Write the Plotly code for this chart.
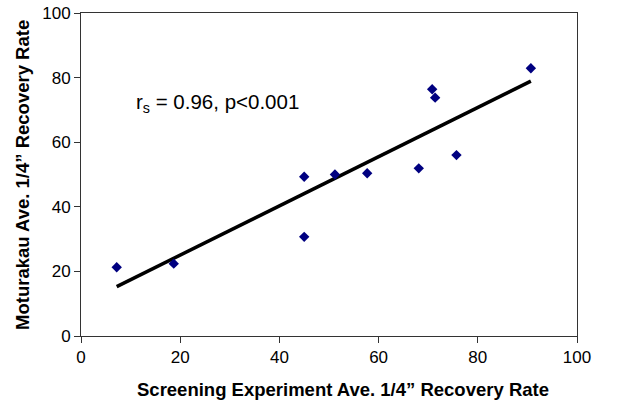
import plotly.graph_objects as go

screening = [7.2, 18.7, 45.0, 45.0, 51.2, 57.7, 68.1, 70.8, 71.4, 75.7, 90.7]
moturakau = [21.3, 22.4, 49.3, 30.7, 50.0, 50.4, 51.9, 76.4, 73.8, 56.0, 82.9]
fit_x = [7.2, 90.7]
fit_y = [15.3, 78.9]
ticks = [0, 20, 40, 60, 80, 100]
x_title = "Screening Experiment Ave. 1/4\u201d Recovery Rate"
y_title = "Moturakau Ave. 1/4\u201d Recovery Rate"
stat_text = "r<sub>s</sub> = 0.96, p&lt;0.001"

FONT = "Liberation Sans, Arial"

fig = go.Figure()
fig.add_trace(go.Scatter(x=fit_x, y=fit_y, mode="lines",
                         line=dict(color="black", width=3.5), showlegend=False))
fig.add_trace(go.Scatter(x=screening, y=moturakau, mode="markers",
                         marker=dict(symbol="diamond", color="#000080", size=8),
                         showlegend=False))

axis_common = dict(range=[0, 100], tickvals=ticks, showgrid=False, zeroline=False,
                   showline=True, linecolor="#333333", linewidth=1, mirror=True,
                   ticks="outside", ticklen=6, tickcolor="#333333", automargin=False,
                   tickfont=dict(family=FONT, size=17, color="black"))

fig.update_xaxes(**axis_common)
fig.update_yaxes(**axis_common)

fig.add_annotation(xref="paper", yref="paper", x=0.529, y=-0.166,
                   xanchor="center", yanchor="middle", showarrow=False,
                   text="<b>" + x_title + "</b>",
                   font=dict(family=FONT, size=18.5, color="black"))
fig.add_annotation(xref="paper", yref="paper", x=-0.118, y=0.5,
                   xanchor="center", yanchor="middle", showarrow=False, textangle=-90,
                   text="<b>" + y_title + "</b>",
                   font=dict(family=FONT, size=18.5, color="black"))

fig.add_annotation(x=10.7, y=72, xanchor="left", yanchor="middle", showarrow=False,
                   text=stat_text,
                   font=dict(family=FONT, size=20.5, color="black"))

fig.update_layout(width=637, height=401, plot_bgcolor="white", paper_bgcolor="white",
                  margin=dict(l=81, r=60, t=13, b=65))

fig.write_html("out.html", config={"displayModeBar": False},
               post_script="document.body.style.margin='0px';")
